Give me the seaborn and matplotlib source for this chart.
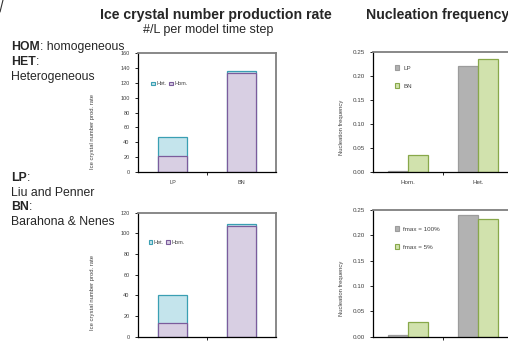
import numpy as np
import pandas as pd
import matplotlib
matplotlib.use("Agg")
import matplotlib.pyplot as plt
import seaborn as sns
from matplotlib.patches import Patch
from matplotlib.lines import Line2D

# ---------------- data ----------------
rate_cats = ["LP", "BN"]
rate_hom = [21, 133]
rate_het = [26.5, 2.5]

fmax_cats = ["fmax = 100%", "fmax = 5%"]
fmax_hom = [13, 107]
fmax_het = [27, 2]

freq_cats = ["Hom.", "Het."]
freq_lp = [0.002, 0.220]
freq_bn = [0.035, 0.236]
freq_f100 = [0.003, 0.240]
freq_f5 = [0.029, 0.232]

# ---------------- style ----------------
sns.set_style("white")
plt.rcParams["font.family"] = ["Liberation Sans", "DejaVu Sans"]

W, H = 508, 345
fig = plt.figure(figsize=(W / 100, H / 100), dpi=100)

HET_FC, HET_EC = "#c4e4ec", "#3a9fb3"
HOM_FC, HOM_EC = "#d8cfe3", "#7b5c9c"
LP_FC, LP_EC = "#b2b2b2", "#9c9c9c"
BN_FC, BN_EC = "#d1e2ad", "#88a84a"
TICKC = "#404040"


def px_axes(l, t, r, b):
    return fig.add_axes([l / W, 1 - b / H, (r - l) / W, (b - t) / H])


def style_axes(ax, ymax, ystep, fmt, fs):
    for s in ["left", "bottom"]:
        ax.spines[s].set_color("black")
        ax.spines[s].set_linewidth(0.9)
    for s in ["top", "right"]:
        ax.spines[s].set_color("#7f7f7f")
        ax.spines[s].set_linewidth(1.3)
    ax.set_ylim(0, ymax)
    ax.set_xlim(-0.5, 1.5)
    ticks = np.arange(0, ymax + ystep / 2, ystep)
    ax.set_yticks(ticks)
    ax.set_yticklabels([fmt.format(v) for v in ticks])
    ax.set_xticks([0.5], minor=True)
    ax.tick_params(axis="y", which="major", length=2, width=0.6, color="black",
                   labelsize=fs, labelcolor=TICKC, pad=4, direction="out", left=True)
    ax.tick_params(axis="x", which="major", length=0, labelsize=fs,
                   labelcolor=TICKC, pad=6)
    ax.tick_params(axis="x", which="minor", length=2, width=0.6, color="black",
                   direction="out", bottom=True)
    ax.set_xlabel("")


def stacked(ax, cats, hom, het, ymax, ystep, ylabel, ylab_y, leg_xy):
    total = [a + b for a, b in zip(hom, het)]
    df_t = pd.DataFrame({"cat": cats, "val": total})
    df_h = pd.DataFrame({"cat": cats, "val": hom})
    sns.barplot(data=df_t, x="cat", y="val", ax=ax, color=HET_FC, width=0.42,
                edgecolor=HET_EC, linewidth=0.9, saturation=1)
    sns.barplot(data=df_h, x="cat", y="val", ax=ax, color=HOM_FC, width=0.42,
                edgecolor=HOM_EC, linewidth=0.9, saturation=1)
    style_axes(ax, ymax, ystep, "{:.0f}", 4)
    ax.set_ylabel(ylabel, fontsize=4.2, color=TICKC)
    ax.yaxis.set_label_coords(-0.31, ylab_y)
    handles = [Patch(facecolor=HET_FC, edgecolor=HET_EC, linewidth=0.8, label="Het."),
               Patch(facecolor=HOM_FC, edgecolor=HOM_EC, linewidth=0.8, label="Hom.")]
    ax.legend(handles=handles, loc="center left", bbox_to_anchor=leg_xy, ncol=2,
              frameon=False, fontsize=4, handlelength=0.7, handleheight=0.7,
              handletextpad=0.2, columnspacing=0.5, borderaxespad=0,
              labelcolor=TICKC)


def grouped(ax, cats, s1, s2, names, ylab_y, leg_xy):
    df = pd.DataFrame({
        "cat": cats + cats,
        "series": [names[0]] * len(cats) + [names[1]] * len(cats),
        "val": list(s1) + list(s2),
    })
    sns.barplot(data=df, x="cat", y="val", hue="series", ax=ax,
                palette=[LP_FC, BN_FC], width=0.57, linewidth=0.9,
                saturation=1, legend=False)
    for cont, ec in zip(ax.containers, [LP_EC, BN_EC]):
        for p in cont:
            p.set_edgecolor(ec)
    style_axes(ax, 0.25, 0.05, "{:.2f}", 4.5)
    ax.set_ylabel("Nucleation frequency", fontsize=4.2, color=TICKC)
    ax.yaxis.set_label_coords(-0.205, ylab_y)
    handles = [Patch(facecolor=LP_FC, edgecolor=LP_EC, linewidth=0.8, label=names[0]),
               Patch(facecolor=BN_FC, edgecolor=BN_EC, linewidth=0.8, label=names[1])]
    ax.legend(handles=handles, loc="upper left", bbox_to_anchor=leg_xy,
              frameon=False, fontsize=4.5, handlelength=0.7, handleheight=0.7,
              handletextpad=0.6, labelspacing=2.0, borderaxespad=0,
              labelcolor=TICKC)


ax1 = px_axes(138, 53, 276, 172)
stacked(ax1, rate_cats, rate_hom, rate_het, 160, 20,
        "Ice crystal number prod. rate", 0.34, (0.08, 0.74))

ax2 = px_axes(138, 212.7, 276, 336.7)
stacked(ax2, fmax_cats, fmax_hom, fmax_het, 120, 20,
        "Ice crystal number prod. rate", 0.36, (0.06, 0.76))

ax3 = px_axes(373, 52, 513, 171.7)
grouped(ax3, freq_cats, freq_lp, freq_bn, ["LP", "BN"], 0.37, (0.14, 0.91))

ax4 = px_axes(373, 210, 513, 336.7)
grouped(ax4, freq_cats, freq_f100, freq_f5, ["fmax = 100%", "fmax = 5%"],
        0.38, (0.14, 0.89))

# ---------------- titles ----------------
fig.text(100 / W, 1 - 15 / H, "Ice crystal number production rate", fontsize=10.2,
         fontweight="bold", ha="left", va="center")
fig.text(143 / W, 1 - 30 / H, "#/L per model time step", fontsize=9,
         ha="left", va="center")
fig.text(366 / W, 1 - 15 / H, "Nucleation frequency", fontsize=10.2,
         fontweight="bold", ha="left", va="center")


# ---------------- side notes ----------------
FS = 8.8


def bold_then(y, bold, rest):
    t = fig.text(11 / W, 1 - y / H, bold, fontsize=FS, fontweight="bold",
                 ha="left", va="center")
    if rest:
        plt.annotate(rest, xy=(1, 0.5), xycoords=t, fontsize=FS, ha="left",
                     va="center", annotation_clip=False)


bold_then(47, "HOM", ": homogeneous")
bold_then(62, "HET", ":")
fig.text(11 / W, 1 - 77 / H, "Heterogeneous", fontsize=FS, ha="left", va="center")
bold_then(178, "LP", ":")
fig.text(11 / W, 1 - 193 / H, "Liu and Penner", fontsize=FS, ha="left", va="center")
bold_then(207, "BN", ":")
fig.text(11 / W, 1 - 222 / H, "Barahona & Nenes", fontsize=FS, ha="left", va="center")

fig.add_artist(Line2D([0 / W, 3 / W], [1 - 12 / H, 1 - 0 / H], color="#333333",
                      linewidth=0.8))

fig.savefig("out.png", dpi=100)
